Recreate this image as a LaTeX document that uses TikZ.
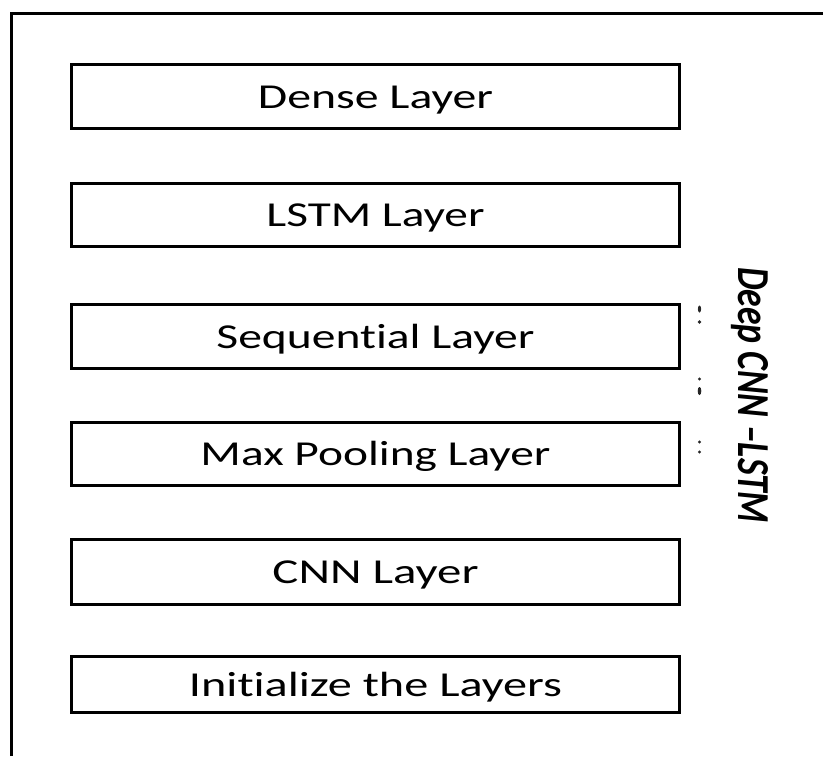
\documentclass[tikz,border=0pt]{standalone}
\usepackage{fontspec}
\setmainfont{Carlito}[Ligatures=NoCommon]
\usepackage{graphicx}
\tikzset{
  layerbox/.style={draw=black, line width=3pt, minimum width=608pt, inner sep=0pt, text height=23pt, text depth=0pt, font=\fontsize{35}{40}\selectfont},
  frameline/.style={draw=black, line width=3pt},
  speck/.style={fill=black!85}
}
\newcommand{\fitw}[2]{\resizebox{#1}{\height}{#2}}
\begin{document}
\begin{tikzpicture}[x=1pt,y=-1pt]
\useasboundingbox (0,0) rectangle (823,756);
\fill[white] (0,0) rectangle (823,756);
% outer frame (only left and top edges visible)
\draw[frameline] (11.5,756) |- (823,13.5);
% layer boxes
\node[layerbox, minimum height=64pt] (dense) at (375.5,96.5) {\fitw{235pt}{Dense Layer}};
\node[layerbox, minimum height=63pt] (lstm) at (375.5,215) {\fitw{218pt}{LSTM Layer}};
\node[layerbox, minimum height=64pt] (seq) at (375.5,336.5) {\fitw{318pt}{Sequential Layer}};
\node[layerbox, minimum height=63pt] (pool) at (375.5,454) {\fitw{350pt}{Max Pooling Layer}};
\node[layerbox, minimum height=65pt] (cnn) at (375.5,572) {\fitw{206pt}{CNN Layer}};
\node[layerbox, minimum height=56pt] (init) at (375.5,684.5) {\fitw{373pt}{Initialize the Layers}};
% vertical label
\node[rotate=-90, anchor=base west, inner sep=0pt, font=\fontsize{35}{40}\selectfont\bfseries\itshape] (lbl) at (738,267) {\resizebox{256pt}{30pt}{Deep CNN –LSTM}};
% small specks
\fill[speck] (699.5,309) ellipse (1.6 and 3.5);
\fill[speck] (699.5,322) circle (1.8);
\fill[speck] (699.5,379) circle (1.6);
\fill[speck] (699.5,391) ellipse (1.8 and 4);
\fill[speck] (699.5,442) circle (1.7);
\fill[speck] (699.5,452) circle (1.7);
\end{tikzpicture}
\end{document}
